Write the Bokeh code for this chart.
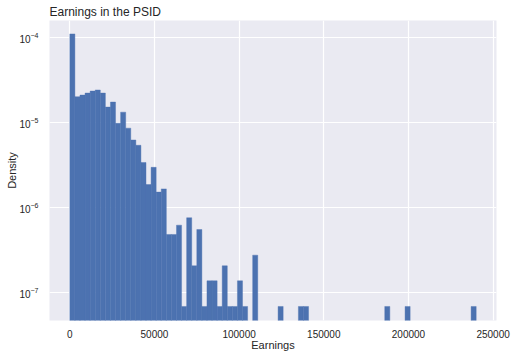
import numpy as np
from bokeh.plotting import figure
from bokeh.models import Range1d, FixedTicker, ColumnDataSource, BasicTickFormatter
from bokeh.embed import file_html
from bokeh.resources import INLINE

# ---- data ----
bin_start = 0
bin_width = 3000
counts = [1583, 290, 303, 320, 338, 348, 320, 219, 251, 142,
          191, 124, 90, 78, 49, 27, 43, 22, 24, 7,
          7, 9, 1, 11, 3, 8, 1, 2, 2, 1,
          3, 1, 1, 2, 1, 0, 4, 0, 0, 0,
          0, 1, 0, 0, 0, 1, 1, 0, 0, 0,
          0, 0, 0, 0, 0, 0, 0, 0, 0, 0,
          0, 0, 1, 0, 0, 0, 1, 0, 0, 0,
          0, 0, 0, 0, 0, 0, 0, 0, 0, 1]
x_ticks = [0, 50000, 100000, 150000, 200000, 250000]
y_ticks = [1e-7, 1e-6, 1e-5, 1e-4]

counts_arr = np.array(counts, dtype=float)
n_bins = len(counts)
left = bin_start + bin_width * np.arange(n_bins)
right = left + bin_width
density = counts_arr / (counts_arr.sum() * bin_width)
mask = counts_arr > 0

src = ColumnDataSource(dict(left=left[mask], right=right[mask],
                            top=density[mask],
                            bottom=np.full(mask.sum(), 1e-9)))

TXT = "#262626"
FONT = "Liberation Sans"
BAR = "#4C72B0"

p = figure(width=516, height=357, output_backend="svg", toolbar_location=None,
           y_axis_type="log",
           x_range=Range1d(-12000, 252000), y_range=Range1d(4.72e-8, 1.57e-4),
           min_border_left=49, min_border_right=20, min_border_top=20,
           min_border_bottom=37)

p.quad(left="left", right="right", top="top", bottom="bottom", source=src,
       fill_color=BAR, line_color=BAR, line_width=0.4)

p.background_fill_color = "#EAEAF2"
p.border_fill_color = "white"
p.outline_line_color = None

p.title.text = "Earnings in the PSID"
p.title.text_font = FONT
p.title.text_font_size = "12px"
p.title.text_font_style = "normal"
p.title.text_color = TXT
p.title.align = "left"
p.title.standoff = 3
p.title.offset = 0

for g in (p.xgrid, p.ygrid):
    g.grid_line_color = "white"
    g.grid_line_width = 1.2
    g.minor_grid_line_color = None

p.xaxis.ticker = FixedTicker(ticks=x_ticks)
p.xaxis.formatter = BasicTickFormatter(use_scientific=False)
p.yaxis.ticker = FixedTicker(ticks=y_ticks)

for ax in (p.xaxis, p.yaxis):
    ax.axis_line_color = None
    ax.major_tick_line_color = None
    ax.minor_tick_line_color = None
    ax.major_label_text_font = FONT
    ax.major_label_text_font_size = "10px"
    ax.major_label_text_color = TXT
    ax.axis_label_text_font = FONT
    ax.axis_label_text_font_size = "11px"
    ax.axis_label_text_font_style = "normal"
    ax.axis_label_text_color = TXT

p.xaxis.axis_label = "Earnings"
p.yaxis.axis_label = "Density"
p.xaxis.major_label_standoff = 3
p.yaxis.major_label_standoff = 5
p.xaxis.axis_label_standoff = -2
p.yaxis.axis_label_standoff = -2

open("out.html", "w").write(file_html(p, INLINE))
